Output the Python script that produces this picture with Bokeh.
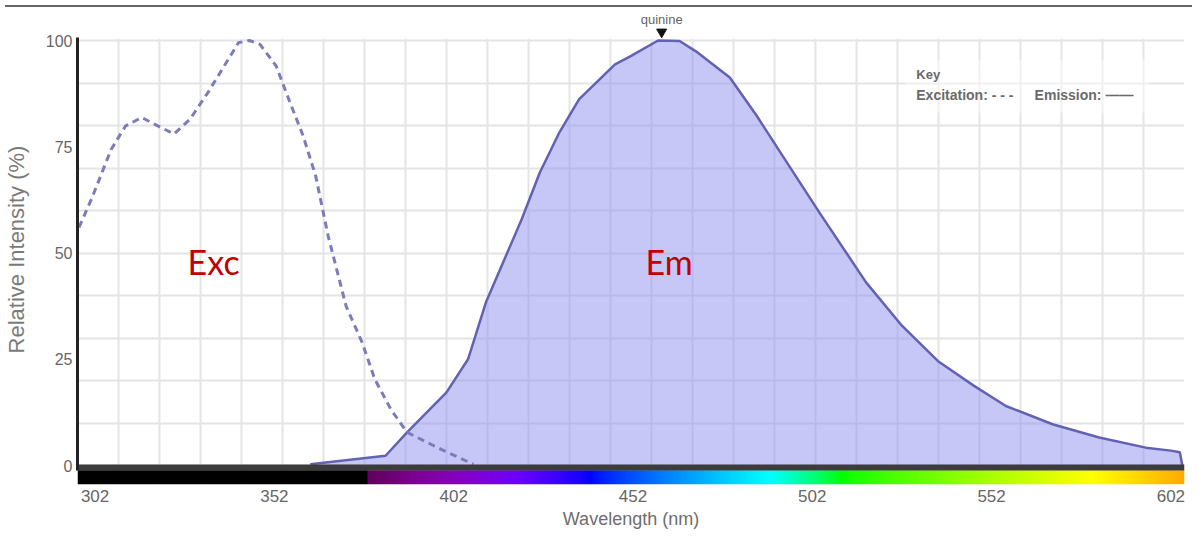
import numpy as np
from bokeh.plotting import figure
from bokeh.models import FixedTicker, Div
from bokeh.layouts import column
from bokeh.core.properties import value
from bokeh.embed import file_html
from bokeh.resources import INLINE

# ---------------- data ----------------
exc_nm = [297.5, 301, 306.5, 310.5, 315, 319.5, 324, 328.5, 333.5, 338, 342, 345,
          348, 352.5, 356, 360, 363.5, 367, 372, 376.5, 380, 384.5, 389, 398.5, 407.5]
exc_val = [56, 62.7, 74.4, 79.9, 81.9, 79.9, 78, 81.5, 87.8, 94, 99.5, 100,
           99.1, 94, 86.2, 77.6, 68.2, 54, 37.5, 28.9, 20.3, 13.2, 7.8, 3.8, 0.3]

em_nm = [362, 383, 389, 400, 406, 411, 421, 426, 431.5, 437, 447, 451.5, 459, 465,
         470, 479, 486.5, 494, 504, 517, 527, 537, 547, 556, 569, 582, 595, 602,
         604.5, 605.2]
em_val = [0.3, 2.3, 7.8, 17.2, 25, 38.4, 58, 68.9, 78.4, 86.2, 94.4, 96.4, 100, 99.9,
          97.2, 91.3, 82.3, 72.5, 59.5, 43.1, 32.9, 24.6, 18.8, 14, 9.7, 6.6, 4.2, 3.5,
          3.1, 0]

x_ticks = [302, 352, 402, 452, 502, 552, 602]
y_ticks = [0, 25, 50, 75, 100]

x_start, x_end = 297.1, 605.8
y_start, y_end = -4.47, 106.12

peak_name = "quinine"
peak_nm = 460.0

label_text = ["Exc", "Em"]
label_nm = [327.8, 455.5]
label_val = [48.0, 48.0]

key_title = "Key"
key_items = ["Excitation: - - -", "Emission: \u2014\u2014"]
key_nm = [531.0, 564.0]

# ---------------- figure ----------------
p = figure(width=1187, height=522, output_backend="svg", toolbar_location=None,
           x_range=(x_start, x_end), y_range=(y_start, y_end),
           min_border_left=70, min_border_right=3, min_border_top=2,
           min_border_bottom=50)
p.outline_line_color = None
p.background_fill_color = "white"

# grid
grid_x = np.arange(308.5, x_end, 11.44)
p.xgrid.ticker = FixedTicker(ticks=list(grid_x))
p.ygrid.ticker = FixedTicker(ticks=list(range(0, 101, 10)))
for g in (p.xgrid, p.ygrid):
    g.grid_line_color = "#e4e4e4"
    g.grid_line_width = 2

# cover grid above 100
p.quad(left=[x_start], right=[x_end], bottom=[100.4], top=[y_end],
       fill_color="white", line_color=None)

# key box
p.quad(left=[528], right=[596], bottom=[83.0], top=[95.5],
       fill_color="white", fill_alpha=0.45, line_color=None)

# emission
p.varea(x=em_nm, y1=[0] * len(em_nm), y2=em_val, fill_color="#9090f0", fill_alpha=0.5)
p.line(em_nm, em_val, line_color="#6262b2", line_width=2.5)

# excitation
p.line(exc_nm, exc_val, line_color="#7c7cb8", line_width=3, line_dash="7 5")


# spectrum bar
def wl_rgb(w):
    if w < 378:
        return (0, 0, 0)
    w = max(w, 380.0)
    if w < 440:
        r, g, b = -(w - 440) / 60, 0.0, 1.0
    elif w < 490:
        r, g, b = 0.0, (w - 440) / 50, 1.0
    elif w < 510:
        r, g, b = 0.0, 1.0, -(w - 510) / 20
    elif w < 580:
        r, g, b = (w - 510) / 70, 1.0, 0.0
    elif w < 645:
        r, g, b = 1.0, -(w - 645) / 65, 0.0
    else:
        r, g, b = 1.0, 0.0, 0.0
    f = 0.3 + 0.7 * (w - 380) / 40 if w < 420 else 1.0
    return tuple(int(round(255 * (f * v) ** 0.8)) if v > 0 else 0 for v in (r, g, b))


bar_w = np.arange(x_start, x_end, 0.25)
img = np.zeros((1, len(bar_w)), dtype=np.uint32)
view = img.view(dtype=np.uint8).reshape((1, len(bar_w), 4))
for i, w in enumerate(bar_w):
    r, g, b = wl_rgb(w)
    view[0, i, 0] = r
    view[0, i, 1] = g
    view[0, i, 2] = b
    view[0, i, 3] = 255
p.image_rgba(image=[img], x=x_start, y=y_start, dw=x_end - x_start, dh=-1.1 - y_start)

# baseline
p.quad(left=[x_start], right=[x_end], bottom=[-1.2], top=[0.25],
       fill_color="#3c3c3c", line_color=None)

# annotations
p.text(x=label_nm, y=label_val, text=label_text, text_font=value("Lato"),
       text_font_size="34px", text_color="#c00000", text_baseline="middle",
       text_align="left")

p.text(x=[peak_nm], y=[105.0], text=[peak_name], text_font=value("Liberation Sans"),
       text_font_size="13px", text_color="#666666", text_baseline="middle",
       text_align="center")
p.scatter(x=[peak_nm], y=[102.0], marker="inverted_triangle", size=10,
          fill_color="#111111", line_color="#111111")

p.text(x=[key_nm[0]], y=[92.0], text=[key_title], text_font=value("Liberation Sans"),
       text_font_size="13px", text_font_style="bold", text_color="#6a6a6a",
       text_baseline="middle")
p.text(x=key_nm, y=[87.2, 87.2], text=key_items, text_font=value("Liberation Sans"),
       text_font_size="14px", text_font_style="bold", text_color="#6a6a6a",
       text_baseline="middle")

# axes
xa = p.xaxis[0]
xa.ticker = FixedTicker(ticks=x_ticks)
xa.axis_line_color = None
xa.major_tick_line_color = None
xa.minor_tick_line_color = None
xa.major_tick_out = 0
xa.major_tick_in = 0
xa.major_label_standoff = 5
xa.major_label_text_font = "Liberation Sans"
xa.major_label_text_font_size = "17px"
xa.major_label_text_color = "#666666"
xa.axis_label = "Wavelength (nm)"
xa.axis_label_text_font = "Liberation Sans"
xa.axis_label_text_font_size = "18px"
xa.axis_label_text_font_style = "normal"
xa.axis_label_text_color = "#6e6e6e"
xa.axis_label_standoff = 4

ya = p.yaxis[0]
ya.ticker = FixedTicker(ticks=y_ticks)
ya.bounds = (-1.2, 100.7)
ya.axis_line_color = "#222222"
ya.axis_line_width = 3
ya.major_tick_line_color = None
ya.minor_tick_line_color = None
ya.major_tick_out = 0
ya.major_tick_in = 0
ya.major_label_standoff = 5
ya.major_label_text_font = "Liberation Sans"
ya.major_label_text_font_size = "16px"
ya.major_label_text_color = "#666666"
ya.axis_label = "Relative Intensity (%)"
ya.axis_label_text_font = "Liberation Sans"
ya.axis_label_text_font_size = "22px"
ya.axis_label_text_font_style = "normal"
ya.axis_label_text_color = "#7a7a7a"
ya.axis_label_standoff = 14

top_line = Div(text="", width=1187, height=2, styles={"background-color": "#666666"})
layout = column(top_line, p, spacing=0)

open("out.html", "w").write(file_html(layout, INLINE))
